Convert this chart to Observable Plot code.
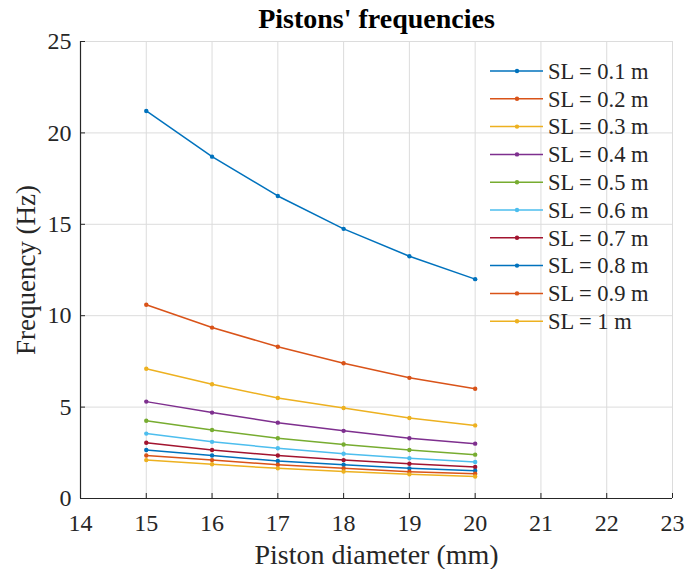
<!DOCTYPE html>
<html>
<head>
<meta charset="utf-8">
<script src="https://cdn.jsdelivr.net/npm/d3@7"></script>
<script src="https://cdn.jsdelivr.net/npm/@observablehq/plot@0.6"></script>
<style>
  html, body { margin: 0; padding: 0; background: #fff; }
  #chart { position: relative; width: 685px; height: 569px; }
</style>
</head>
<body>
<div id="chart"></div>
<script>
const diameters = [15, 16, 17, 18, 19, 20];
const seriesNames = ["SL = 0.1 m","SL = 0.2 m","SL = 0.3 m","SL = 0.4 m","SL = 0.5 m","SL = 0.6 m","SL = 0.7 m","SL = 0.8 m","SL = 0.9 m","SL = 1 m"];
const sl01 = [21.2, 18.7, 16.55, 14.75, 13.25, 12.0];
const sl02 = [10.6, 9.35, 8.3, 7.4, 6.6, 6.0];
const sl03 = [7.1, 6.25, 5.5, 4.95, 4.4, 4.0];
const sl04 = [5.3, 4.7, 4.15, 3.7, 3.3, 3.0];
const sl05 = [4.25, 3.75, 3.3, 2.95, 2.65, 2.4];
const sl06 = [3.55, 3.1, 2.75, 2.45, 2.2, 2.0];
const sl07 = [3.05, 2.65, 2.35, 2.1, 1.9, 1.72];
const sl08 = [2.65, 2.35, 2.05, 1.85, 1.65, 1.52];
const sl09 = [2.35, 2.1, 1.85, 1.65, 1.47, 1.35];
const sl10 = [2.1, 1.87, 1.65, 1.48, 1.32, 1.2];
const seriesValues = [sl01, sl02, sl03, sl04, sl05, sl06, sl07, sl08, sl09, sl10];
const colors = ["#0072BD","#D95319","#EDB120","#7E2F8E","#77AC30","#4DBEEE","#A2142F","#0072BD","#D95319","#EDB120"];
const xTicks = [14, 15, 16, 17, 18, 19, 20, 21, 22, 23];
const yTicks = [0, 5, 10, 15, 20, 25];

const rows = [];
seriesNames.forEach((name, i) => {
  diameters.forEach((d, j) => rows.push({series: name, d, f: seriesValues[i][j]}));
});

const W = 685, H = 569;
const mL = 80, mR = 13, mT = 41, mB = 71;
const fw = W - mL - mR, fh = H - mT - mB;
const font = "'Liberation Serif', 'Times New Roman', serif";
const ink = "#262626";

const plot = Plot.plot({
  width: W, height: H,
  marginLeft: mL, marginRight: mR, marginTop: mT, marginBottom: mB,
  style: {fontFamily: font, background: "#fff", color: ink},
  x: {domain: [14, 23], axis: null},
  y: {domain: [0, 25], axis: null},
  color: {domain: seriesNames, range: colors},
  marks: [
    Plot.gridX(xTicks, {stroke: "#dcdcdc", strokeOpacity: 1, strokeWidth: 1}),
    Plot.gridY(yTicks, {stroke: "#dcdcdc", strokeOpacity: 1, strokeWidth: 1}),
    Plot.ruleX([14], {stroke: ink, strokeWidth: 1.2}),
    Plot.ruleY([0], {stroke: ink, strokeWidth: 1.2}),
    Plot.tickX(xTicks, {x: d => d, stroke: ink, insetTop: fh - 5}),
    Plot.tickY(yTicks, {y: d => d, stroke: ink, insetRight: fw - 5}),
    Plot.text(xTicks, {x: d => d, frameAnchor: "bottom", lineAnchor: "middle", dy: 25, text: d => String(d), fontSize: 24, fill: ink}),
    Plot.text(yTicks, {y: d => d, frameAnchor: "left", lineAnchor: "middle", dx: -9, textAnchor: "end", text: d => String(d), fontSize: 24, fill: ink}),
    Plot.line(rows, {x: "d", y: "f", z: "series", stroke: "series", strokeWidth: 1.5}),
    Plot.dot(rows, {x: "d", y: "f", fill: "series", r: 2.2, stroke: null}),
    Plot.text(["Pistons' frequencies"], {frameAnchor: "top", lineAnchor: "middle", dy: -22, fontSize: 28, fontWeight: "bold", fill: "#000"}),
    Plot.text(["Piston diameter (mm)"], {frameAnchor: "bottom", lineAnchor: "middle", dy: 57, fontSize: 28, fill: ink}),
    Plot.text(["Frequency (Hz)"], {frameAnchor: "left", lineAnchor: "middle", textAnchor: "middle", dx: -54, rotate: -90, fontSize: 27, fill: ink})
  ]
});

document.getElementById("chart").appendChild(plot);

// legend inside the axes, top-right
const svg = d3.select(plot);
const lg = svg.append("g").attr("font-family", font).attr("font-size", 22.5)
  .attr("fill", ink).attr("text-anchor", "start");
seriesNames.forEach((name, i) => {
  const y = 71 + i * 27.8;
  lg.append("line").attr("x1", 490).attr("x2", 543).attr("y1", y).attr("y2", y)
    .attr("stroke", colors[i]).attr("stroke-width", 1.5);
  lg.append("circle").attr("cx", 517).attr("cy", y).attr("r", 2.2).attr("fill", colors[i]);
  lg.append("text").attr("x", 548).attr("y", y).attr("dy", "0.35em").text(name);
});
</script>
</body>
</html>
